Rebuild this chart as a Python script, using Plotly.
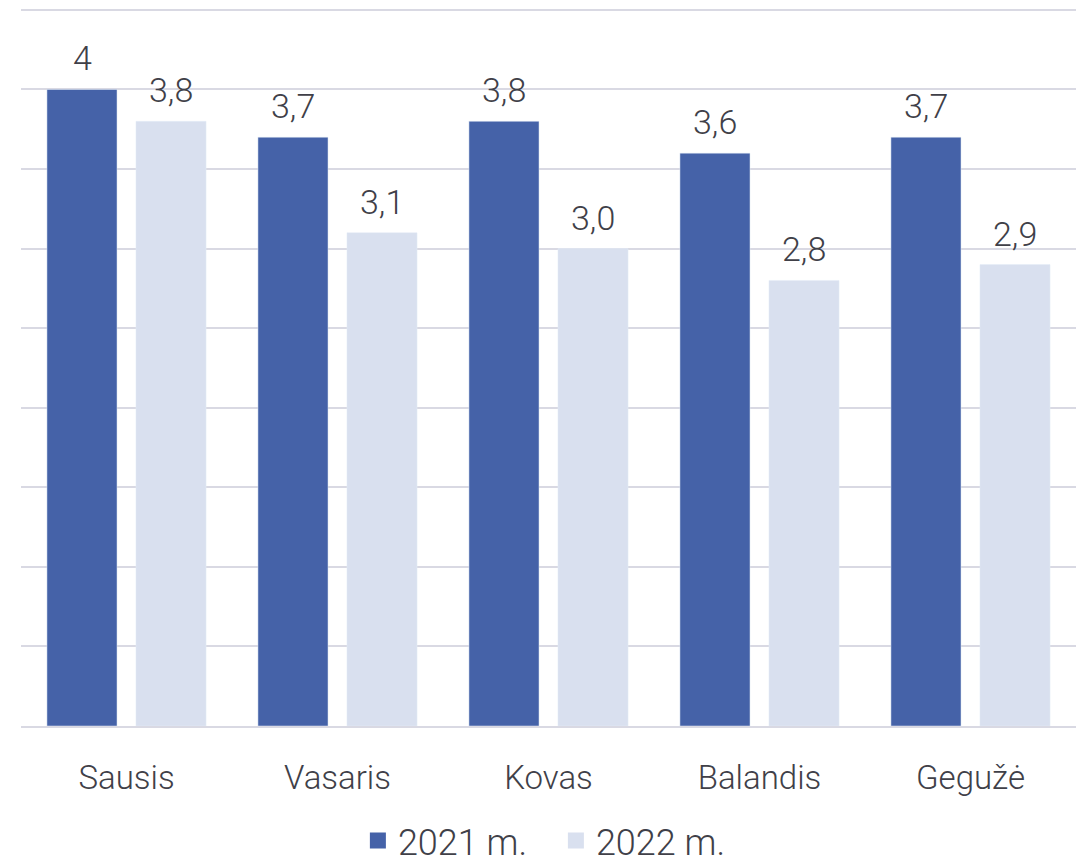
import plotly.graph_objects as go

months = ["Sausis", "Vasaris", "Kovas", "Balandis", "Gegužė"]
v2021 = [4.0, 3.7, 3.8, 3.6, 3.7]
v2022 = [3.8, 3.1, 3.0, 2.8, 2.9]
lbl2021 = ["4", "3,7", "3,8", "3,6", "3,7"]
lbl2022 = ["3,8", "3,1", "3,0", "2,8", "2,9"]
series_names = ["2021 m.", "2022 m."]

C1 = "#4562A8"
C2 = "#D9E0EF"
TXT = "#404048"
FAM = "Roboto, 'Open Sans', sans-serif"
LBL_FONT = dict(family=FAM, size=34, color=TXT, weight=300)
CAT_FONT = dict(family=FAM, size=33, color=TXT, weight=300)
LEG_FONT = dict(family=FAM, size=36, color=TXT, weight=300)

fig = go.Figure()
fig.add_bar(x=months, y=v2021, name=series_names[0], marker_color=C1, showlegend=False)
fig.add_bar(x=months, y=v2022, name=series_names[1], marker_color=C2, showlegend=False)

# legend-only entries with square swatches
for nm, c in zip(series_names, [C1, C2]):
    fig.add_scatter(x=[None], y=[None], mode="markers", name=nm,
                    marker=dict(symbol="square", size=22, color=c))

for m, v, t in zip(months, v2021, lbl2021):
    fig.add_annotation(x=m, y=v, text=t, showarrow=False, xshift=-44.5, yshift=9,
                       yanchor="bottom", font=LBL_FONT)
for m, v, t in zip(months, v2022, lbl2022):
    fig.add_annotation(x=m, y=v, text=t, showarrow=False, xshift=44.5, yshift=9,
                       yanchor="bottom", font=LBL_FONT)

fig.update_layout(
    width=1076, height=854,
    margin=dict(l=13, r=8, t=0, b=136, autoexpand=False),
    paper_bgcolor="white", plot_bgcolor="white",
    barmode="group", bargap=0.156, bargroupgap=0.213,
    font=LBL_FONT,
    showlegend=True,
    legend=dict(orientation="h", x=0.507, xanchor="center", y=-0.118, yanchor="top",
                font=LEG_FONT, itemwidth=30, entrywidth=153, tracegroupgap=0),
    xaxis=dict(showgrid=False, showline=True, linecolor="#D9D9E3", linewidth=2,
               ticks="", tickfont=CAT_FONT, ticklabelstandoff=21, fixedrange=True),
    yaxis=dict(range=[0, 4.512], dtick=0.5, showgrid=True, gridcolor="#D9D9E3", gridwidth=2,
               showticklabels=False, zeroline=False, ticks=""),
)

fig.write_html("out.html")
